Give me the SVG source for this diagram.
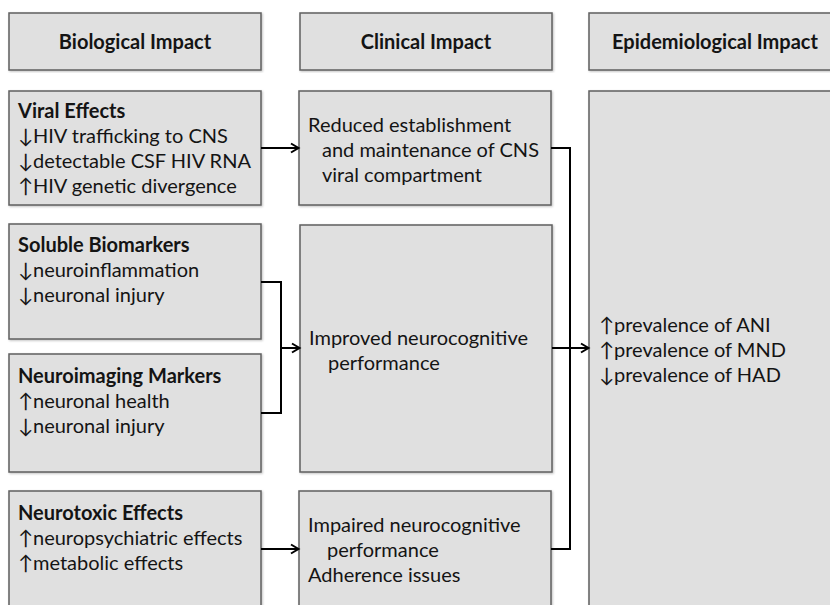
<svg xmlns="http://www.w3.org/2000/svg" width="830" height="605" viewBox="0 0 830 605">
<style>
.box{fill:#e0e0e0;stroke:#5f5f5f;stroke-width:1.5;filter:url(#sh)}
.t{font-family:Lato,"Open Sans","DejaVu Sans",sans-serif;font-size:20px;fill:#141414}
.b{font-weight:bold}
.h{font-weight:bold;text-anchor:middle}
.c{fill:none;stroke:#000;stroke-width:2}
</style>
<defs>
<filter id="sh" x="-5%" y="-5%" width="110%" height="110%">
<feDropShadow dx="1" dy="1" stdDeviation="0.8" flood-color="#000" flood-opacity="0.25"/>
</filter>
<marker id="ar" markerWidth="12" markerHeight="12" refX="9" refY="6" orient="auto" markerUnits="userSpaceOnUse">
<path d="M2,1.5 L9.5,6 L2,10.5" fill="none" stroke="#000" stroke-width="2"/>
</marker>
</defs>
<rect width="830" height="605" fill="#fff"/>
<g id="hdr-bio"><rect class="box" x="9" y="13" width="252" height="57"/><text class="t h" x="135" y="49">Biological Impact</text></g>
<g id="hdr-clin"><rect class="box" x="300" y="13" width="252" height="57"/><text class="t h" x="426" y="49">Clinical Impact</text></g>
<g id="hdr-epi"><rect class="box" x="589" y="13" width="252" height="57"/><text class="t h" x="715" y="49">Epidemiological Impact</text></g>
<g id="viral"><rect class="box" x="9" y="91" width="252" height="114"/>
<text class="t" x="18" y="118"><tspan class="b">Viral Effects</tspan><tspan x="18" y="143">↓HIV trafficking to CNS</tspan><tspan x="18" y="168">↓detectable CSF HIV RNA</tspan><tspan x="18" y="193">↑HIV genetic divergence</tspan></text></g>
<g id="soluble"><rect class="box" x="9" y="224" width="252" height="115"/>
<text class="t" x="18" y="252"><tspan class="b">Soluble Biomarkers</tspan><tspan x="18" y="277">↓neuroinflammation</tspan><tspan x="18" y="302">↓neuronal injury</tspan></text></g>
<g id="neuroimaging"><rect class="box" x="9" y="354" width="252" height="118"/>
<text class="t" x="18" y="383"><tspan class="b">Neuroimaging Markers</tspan><tspan x="18" y="408">↑neuronal health</tspan><tspan x="18" y="433">↓neuronal injury</tspan></text></g>
<g id="neurotoxic"><rect class="box" x="9" y="491" width="252" height="130"/>
<text class="t" x="18" y="520"><tspan class="b">Neurotoxic Effects</tspan><tspan x="18" y="545">↑neuropsychiatric effects</tspan><tspan x="18" y="570">↑metabolic effects</tspan></text></g>
<g id="reduced"><rect class="box" x="299" y="91" width="252" height="114"/>
<text class="t" x="308" y="132">Reduced establishment<tspan x="322" y="157">and maintenance of CNS</tspan><tspan x="322" y="182">viral compartment</tspan></text></g>
<g id="improved"><rect class="box" x="300" y="225" width="252" height="247"/>
<text class="t" x="309" y="345">Improved neurocognitive<tspan x="328" y="370">performance</tspan></text></g>
<g id="impaired"><rect class="box" x="299" y="491" width="252" height="130"/>
<text class="t" x="308" y="532">Impaired neurocognitive<tspan x="327" y="557">performance</tspan><tspan x="308" y="582">Adherence issues</tspan></text></g>
<g id="epi"><rect class="box" x="589" y="91" width="252" height="530"/>
<text class="t" x="599" y="332">↑prevalence of ANI<tspan x="599" y="357">↑prevalence of MND</tspan><tspan x="599" y="382">↓prevalence of HAD</tspan></text></g>
<g id="connectors">
<path class="c" d="M261,148 H298" marker-end="url(#ar)"/>
<path class="c" d="M261,282 H281 V413 H261"/>
<path class="c" d="M281,348 H299" marker-end="url(#ar)"/>
<path class="c" d="M261,549 H298" marker-end="url(#ar)"/>
<path class="c" d="M551,148 H570 V549 H551"/>
<path class="c" d="M552,348 H588" marker-end="url(#ar)"/>
</g>
</svg>
